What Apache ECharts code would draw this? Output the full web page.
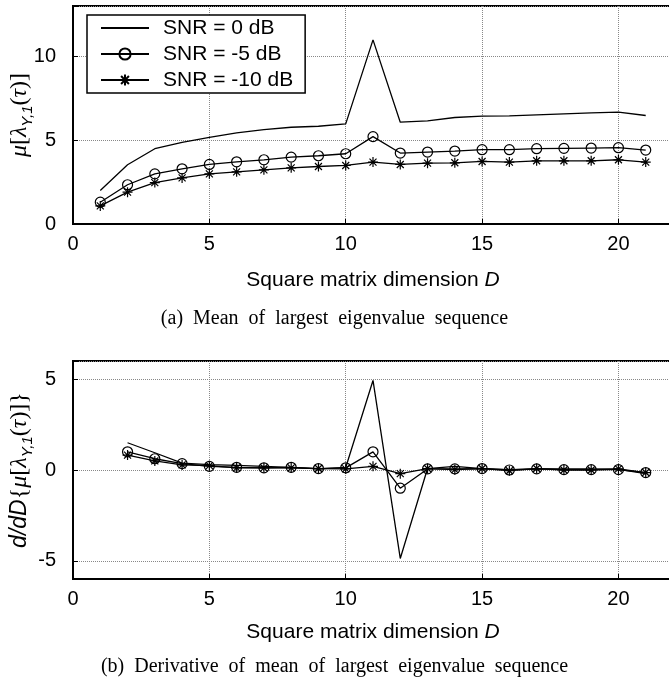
<!DOCTYPE html>
<html>
<head>
<meta charset="utf-8">
<script src="https://cdn.jsdelivr.net/npm/echarts@6/dist/echarts.min.js"></script>
<style>
  html, body { margin: 0; padding: 0; background: #fff; }
  #main { width: 669px; height: 687px; }
</style>
</head>
<body>
<div id="main"></div>
<script>
// square matrix dimension D
const dims = [1, 2, 3, 4, 5, 6, 7, 8, 9, 10, 11, 12, 13, 14, 15, 16, 17, 18, 19, 20, 21];
// (a) mean of largest eigenvalue
const meanSnr0 = [2.0, 3.53, 4.49, 4.87, 5.17, 5.43, 5.63, 5.77, 5.83, 5.97, 10.98, 6.07, 6.15, 6.35, 6.43, 6.45, 6.51, 6.57, 6.63, 6.67, 6.47];
const meanSnr5 = [1.30, 2.34, 2.99, 3.29, 3.55, 3.71, 3.83, 3.99, 4.07, 4.19, 5.21, 4.23, 4.29, 4.35, 4.43, 4.43, 4.49, 4.51, 4.53, 4.55, 4.41];
const meanSnr10 = [1.08, 1.90, 2.47, 2.75, 2.99, 3.11, 3.23, 3.35, 3.43, 3.49, 3.69, 3.55, 3.63, 3.65, 3.73, 3.69, 3.77, 3.77, 3.77, 3.83, 3.69];
// (b) derivative, D = 2..21
const dDims = [2, 3, 4, 5, 6, 7, 8, 9, 10, 11, 12, 13, 14, 15, 16, 17, 18, 19, 20, 21];
const derivSnr0 = [1.5, 0.95, 0.38, 0.3, 0.26, 0.2, 0.14, 0.06, 0.14, 4.93, -4.87, 0.08, 0.2, 0.08, 0.02, 0.06, 0.06, 0.06, 0.04, -0.2];
const derivSnr5 = [1.0, 0.62, 0.35, 0.2, 0.15, 0.12, 0.15, 0.08, 0.12, 1.0, -1.0, 0.06, 0.06, 0.08, 0.0, 0.06, 0.02, 0.02, 0.02, -0.14];
const derivSnr10 = [0.82, 0.5, 0.28, 0.24, 0.12, 0.12, 0.12, 0.08, 0.06, 0.2, -0.2, 0.08, 0.02, 0.08, -0.04, 0.08, 0.0, 0.0, 0.06, -0.14];

const seriesNames = ['SNR = 0 dB', 'SNR = -5 dB', 'SNR = -10 dB'];
const xTicks = [0, 5, 10, 15, 20];

const sans = 'Liberation Sans';
const serif = 'Liberation Serif';
const starPath = 'path://M0,-10L0,10M-10,0L10,0M-7,-7L7,7M-7,7L7,-7';

function pairs(xs, ys) {
  return xs.map((x, i) => [x, ys[i]]);
}

function xAxisCfg(gridIndex) {
  return {
    type: 'value', gridIndex: gridIndex, min: 0, max: 22, interval: 5,
    name: 'Square matrix dimension {it|D}',
    nameLocation: 'middle', nameGap: gridIndex === 0 ? 46 : 43, nameMoveOverlap: false,
    nameTextStyle: { fontFamily: sans, fontSize: 21, color: '#000',
      rich: { it: { fontFamily: sans, fontStyle: 'italic', fontSize: 21, color: '#000' } } },
    axisLine: { show: true, onZero: false, lineStyle: { color: '#000', width: 2 } },
    axisTick: { show: true, inside: true, length: 5, lineStyle: { color: '#000' } },
    axisLabel: { fontFamily: sans, fontSize: 20, color: '#000', margin: 10,
      formatter: v => xTicks.indexOf(v) >= 0 ? String(v) : '' },
    splitLine: { show: true, lineStyle: { color: '#888', type: 'dotted', width: 1 } }
  };
}

const nameRich = {
  i: { fontFamily: serif, fontStyle: 'italic', fontSize: 24, color: '#000', lineHeight: 30 },
  n: { fontFamily: serif, fontSize: 24, color: '#000', lineHeight: 30 },
  s: { fontFamily: sans, fontStyle: 'italic', fontSize: 15, color: '#000', lineHeight: 30, verticalAlign: 'bottom' },
  d: { fontFamily: sans, fontStyle: 'italic', fontSize: 23, color: '#000', lineHeight: 30 }
};

function yAxisCfg(gridIndex, min, max, name, ticks, extra) {
  return Object.assign({
    type: 'value', gridIndex: gridIndex, min: min, max: max,
    name: name, nameLocation: 'middle', nameGap: 38, nameMoveOverlap: false,
    nameTextStyle: { fontFamily: serif, fontSize: 24, color: '#000', rich: nameRich },
    axisLine: { show: true, onZero: false, lineStyle: { color: '#000', width: 2 } },
    axisTick: { show: true, inside: true, length: 5, lineStyle: { color: '#000' } },
    axisLabel: { fontFamily: sans, fontSize: 20, color: '#000', margin: 17,
      formatter: v => ticks.indexOf(v) >= 0 ? String(v) : '' },
    splitLine: { show: true, lineStyle: { color: '#888', type: 'dotted', width: 1 } }
  }, extra);
}

function makeSeries(idx, xs, a, b, c) {
  const base = { type: 'line', xAxisIndex: idx, yAxisIndex: idx, animation: false,
    lineStyle: { color: '#000', width: 1.3 }, z: 3 };
  return [
    Object.assign({}, base, { name: seriesNames[0], data: pairs(xs, a), symbol: 'none',
      itemStyle: { color: '#000' } }),
    Object.assign({}, base, { name: seriesNames[1], data: pairs(xs, b), symbol: 'circle', symbolSize: 10,
      itemStyle: { color: 'rgba(0,0,0,0)', borderColor: '#000', borderWidth: 1.2 } }),
    Object.assign({}, base, { name: seriesNames[2], data: pairs(xs, c), symbol: starPath, symbolSize: 10,
      itemStyle: { color: '#000', borderColor: '#000', borderWidth: 1.2 } })
  ];
}

const chart = echarts.init(document.getElementById('main'));
chart.setOption({
  backgroundColor: '#fff',
  animation: false,
  grid: [
    { left: 73, top: 6, width: 600, height: 218, show: true, borderColor: '#000', borderWidth: 2,
      containLabel: false, outerBoundsMode: 'none' },
    { left: 73, top: 361, width: 600, height: 218, show: true, borderColor: '#000', borderWidth: 2,
      containLabel: false, outerBoundsMode: 'none' }
  ],
  legend: {
    data: [
      { name: seriesNames[0], itemStyle: { color: 'rgba(0,0,0,0)', borderColor: 'rgba(0,0,0,0)', borderWidth: 0 } },
      { name: seriesNames[1] },
      { name: seriesNames[2] }
    ],
    orient: 'vertical', left: 87, top: 15,
    backgroundColor: '#fff', borderColor: '#000', borderWidth: 1.5, borderRadius: 0,
    padding: [2, 12, 2, 13], itemGap: 4, itemWidth: 48, itemHeight: 14,
    textStyle: { fontFamily: sans, fontSize: 21, color: '#000', lineHeight: 22, padding: [0, 0, 0, 9] }
  },
  xAxis: [xAxisCfg(0), xAxisCfg(1)],
  yAxis: [
    yAxisCfg(0, 0, 13, '{i|μ}{n|[}{i|λ}{s|Y,1}{n|(}{i|τ}{n|)]}', [0, 5, 10], { interval: 5 }),
    yAxisCfg(1, -6, 6, '{d|d/dD}{n|{}{i|μ}{n|[}{i|λ}{s|Y,1}{n|(}{i|τ}{n|)]}}', [-5, 0, 5], { splitNumber: 2 })
  ],
  series: [].concat(
    makeSeries(0, dims, meanSnr0, meanSnr5, meanSnr10),
    makeSeries(1, dDims, derivSnr0, derivSnr5, derivSnr10)
  ),
  graphic: [
    { type: 'text', left: 'center', top: 309,
      style: { text: '(a)  Mean  of  largest  eigenvalue  sequence', font: '20px "Liberation Serif"', fill: '#000' } },
    { type: 'text', left: 'center', top: 657,
      style: { text: '(b)  Derivative  of  mean  of  largest  eigenvalue  sequence', font: '20px "Liberation Serif"', fill: '#000' } }
  ]
});
</script>
</body>
</html>
